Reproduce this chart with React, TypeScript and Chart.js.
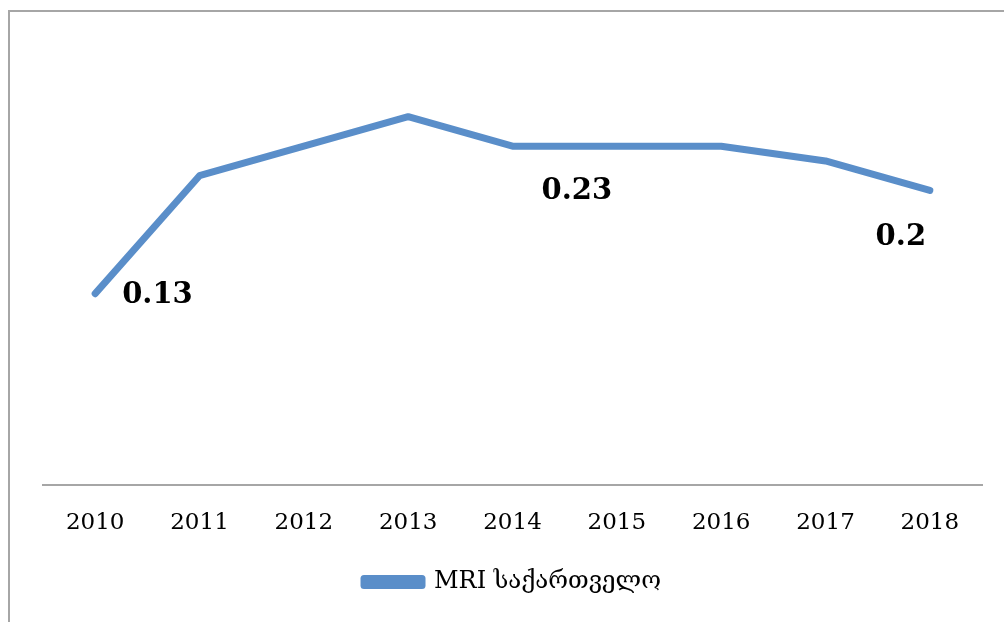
import React, { useEffect, useRef } from "react";
import { Chart, registerables } from "chart.js";

Chart.register(...registerables);

const years = ["2010", "2011", "2012", "2013", "2014", "2015", "2016", "2017", "2018"];
const mriValues = [0.13, 0.21, 0.23, 0.25, 0.23, 0.23, 0.23, 0.22, 0.2];
const labelIndices = [0, 4, 8];
const seriesName = "MRI საქართველო";

const LINE_COLOR = "#5a8ec9";
const SERIF = "'DejaVu Serif', 'Liberation Serif', serif";

const labelOffsets: Record<number, { dx: number; dy: number; align: CanvasTextAlign }> = {
  0: { dx: 27, dy: 2, align: "left" },
  4: { dx: 29, dy: 45, align: "left" },
  8: { dx: -29, dy: 47, align: "center" },
};

const dataLabelPlugin = {
  id: "dataLabels",
  afterDatasetsDraw(chart: any) {
    const meta = chart.getDatasetMeta(0);
    const ctx = chart.ctx;
    ctx.save();
    ctx.font = `bold 29px ${SERIF}`;
    ctx.fillStyle = "#000";
    ctx.textBaseline = "middle";
    labelIndices.forEach((i) => {
      const pt = meta.data[i];
      const off = labelOffsets[i];
      ctx.textAlign = off.align;
      ctx.fillText(String(mriValues[i]), pt.x + off.dx, pt.y + off.dy);
    });
    ctx.restore();
  },
};

export default function App() {
  const ref = useRef<HTMLCanvasElement | null>(null);
  useEffect(() => {
    if (!ref.current) return;
    const chart = new Chart(ref.current, {
      type: "line",
      data: {
        labels: years,
        datasets: [
          {
            label: seriesName,
            data: mriValues,
            borderColor: LINE_COLOR,
            backgroundColor: LINE_COLOR,
            borderWidth: 7,
            borderCapStyle: "round",
            borderJoinStyle: "round",
            pointRadius: 0,
            pointHoverRadius: 0,
            tension: 0,
            fill: false,
          },
        ],
      },
      options: {
        animation: false,
        responsive: false,
        maintainAspectRatio: false,
        layout: { padding: { left: 33, right: 22, top: 31, bottom: 18 } },
        plugins: {
          tooltip: { enabled: false },
          legend: {
            position: "bottom",
            labels: {
              boxWidth: 58,
              boxHeight: 7,
              padding: 9,
              color: "#000",
              font: { family: SERIF, size: 24 },
            },
          },
        },
        scales: {
          y: { display: false, min: 0, max: 0.3 },
          x: {
            offset: true,
            grid: { display: false, drawTicks: false },
            border: { display: true, color: "#a6a6a6", width: 2 },
            ticks: {
              color: "#000",
              padding: 24,
              font: { family: SERIF, size: 23 },
            },
          },
        },
      },
      plugins: [dataLabelPlugin],
    });
    return () => chart.destroy();
  }, []);
  return (
    <div
      style={{
        position: "fixed",
        left: 8,
        top: 10,
        width: 994,
        height: 610,
        borderLeft: "2px solid #a6a6a6",
        borderTop: "2px solid #a6a6a6",
        overflow: "hidden",
        background: "#fff",
      }}
    >
      <canvas ref={ref} width={994} height={610} style={{ display: "block" }} />
    </div>
  );
}
